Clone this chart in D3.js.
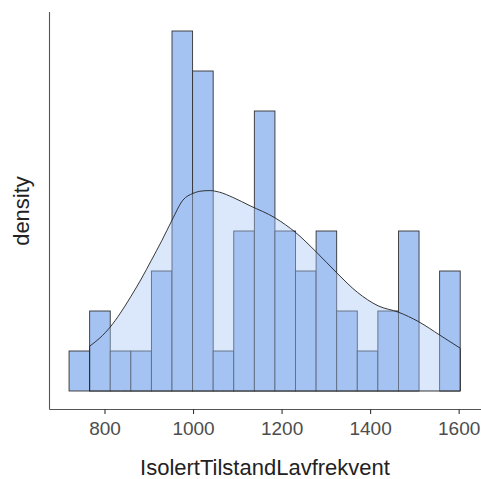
<!DOCTYPE html>
<html>
<head>
<meta charset="utf-8">
<script src="https://cdn.jsdelivr.net/npm/d3@7"></script>
<style>
  body { margin: 0; background: #fff; }
  svg { display: block; font-family: Arial, "Liberation Sans", sans-serif; }
</style>
</head>
<body>
<div id="chart"></div>
<script>
// histogram bins (edges) and counts
const binEdges = [720, 766.5, 813, 859.5, 906, 952.5, 999, 1045.5, 1092, 1138.5, 1185,
                  1231.5, 1278, 1324.5, 1371, 1417.5, 1464, 1510.5, 1557, 1603.5];
const counts = [1, 2, 1, 1, 3, 9, 8, 1, 4, 7, 4, 3, 4, 2, 1, 2, 4, 0, 3];

// density curve, scaled to counts
const densX = [766.5, 790, 813, 836, 859.5, 883, 906, 930, 952.5, 977, 1000, 1020, 1038,
               1060, 1090, 1129, 1185, 1232, 1278, 1325, 1371, 1418, 1464, 1510, 1557, 1603.5];
const densY = [1.12, 1.33, 1.6, 1.95, 2.36, 2.8, 3.27, 3.77, 4.27, 4.77, 4.94, 5.0, 5.01,
               4.97, 4.84, 4.63, 4.33, 3.96, 3.48, 2.95, 2.47, 2.13, 1.97, 1.73, 1.4, 1.07];

const xTicks = [800, 1000, 1200, 1400, 1600];

const width = 481, height = 479;
const svg = d3.select("#chart").append("svg")
  .attr("width", width)
  .attr("height", height);

const x = d3.scaleLinear().domain([675.8, 1648.2]).range([49.5, 480]);
const y = d3.scaleLinear().domain([-0.45, 9.45]).range([409, 13]);

const bins = counts.map((c, i) => ({ x0: binEdges[i], x1: binEdges[i + 1], n: c }));
const barFill = "#a4c2f2";

svg.append("g")
  .selectAll("rect")
  .data(bins.filter(d => d.n > 0))
  .join("rect")
  .attr("x", d => x(d.x0))
  .attr("y", d => y(d.n))
  .attr("width", d => x(d.x1) - x(d.x0))
  .attr("height", d => y(0) - y(d.n))
  .attr("fill", barFill)
  .attr("stroke", "#333")
  .attr("stroke-width", 0.9);

const dens = densX.map((v, i) => [v, densY[i]]);

const area = d3.area()
  .x(d => x(d[0]))
  .y0(y(0))
  .y1(d => y(d[1]))
  .curve(d3.curveMonotoneX);

svg.append("path")
  .datum(dens)
  .attr("d", area)
  .attr("fill", barFill)
  .attr("fill-opacity", 0.4)
  .attr("stroke", "#222")
  .attr("stroke-width", 0.9);

// axes
const xAxis = svg.append("g")
  .attr("transform", `translate(0,${y.range()[0]})`)
  .call(d3.axisBottom(x).tickValues(xTicks).tickFormat(d3.format("d"))
    .tickSize(5).tickPadding(8).tickSizeOuter(0));
xAxis.select(".domain").attr("stroke", "#555").attr("stroke-width", 1.1)
  .attr("d", `M49.5,0.5H481`);
xAxis.selectAll(".tick line").attr("stroke", "#333").attr("stroke-width", 1.1);
xAxis.selectAll(".tick text")
  .attr("fill", "#4d4d4d")
  .style("font-size", "19px")
  .style("font-family", "Arial, 'Liberation Sans', sans-serif");

svg.append("line")
  .attr("x1", 49.5).attr("x2", 49.5)
  .attr("y1", 12).attr("y2", 409.5)
  .attr("stroke", "#555")
  .attr("stroke-width", 1.1);

svg.append("text")
  .attr("x", 265)
  .attr("y", 475)
  .attr("text-anchor", "middle")
  .attr("fill", "#222")
  .style("font-size", "22px")
  .text("IsolertTilstandLavfrekvent");

svg.append("text")
  .attr("transform", "translate(29,211) rotate(-90)")
  .attr("text-anchor", "middle")
  .attr("fill", "#222")
  .style("font-size", "22px")
  .text("density");
</script>
</body>
</html>
